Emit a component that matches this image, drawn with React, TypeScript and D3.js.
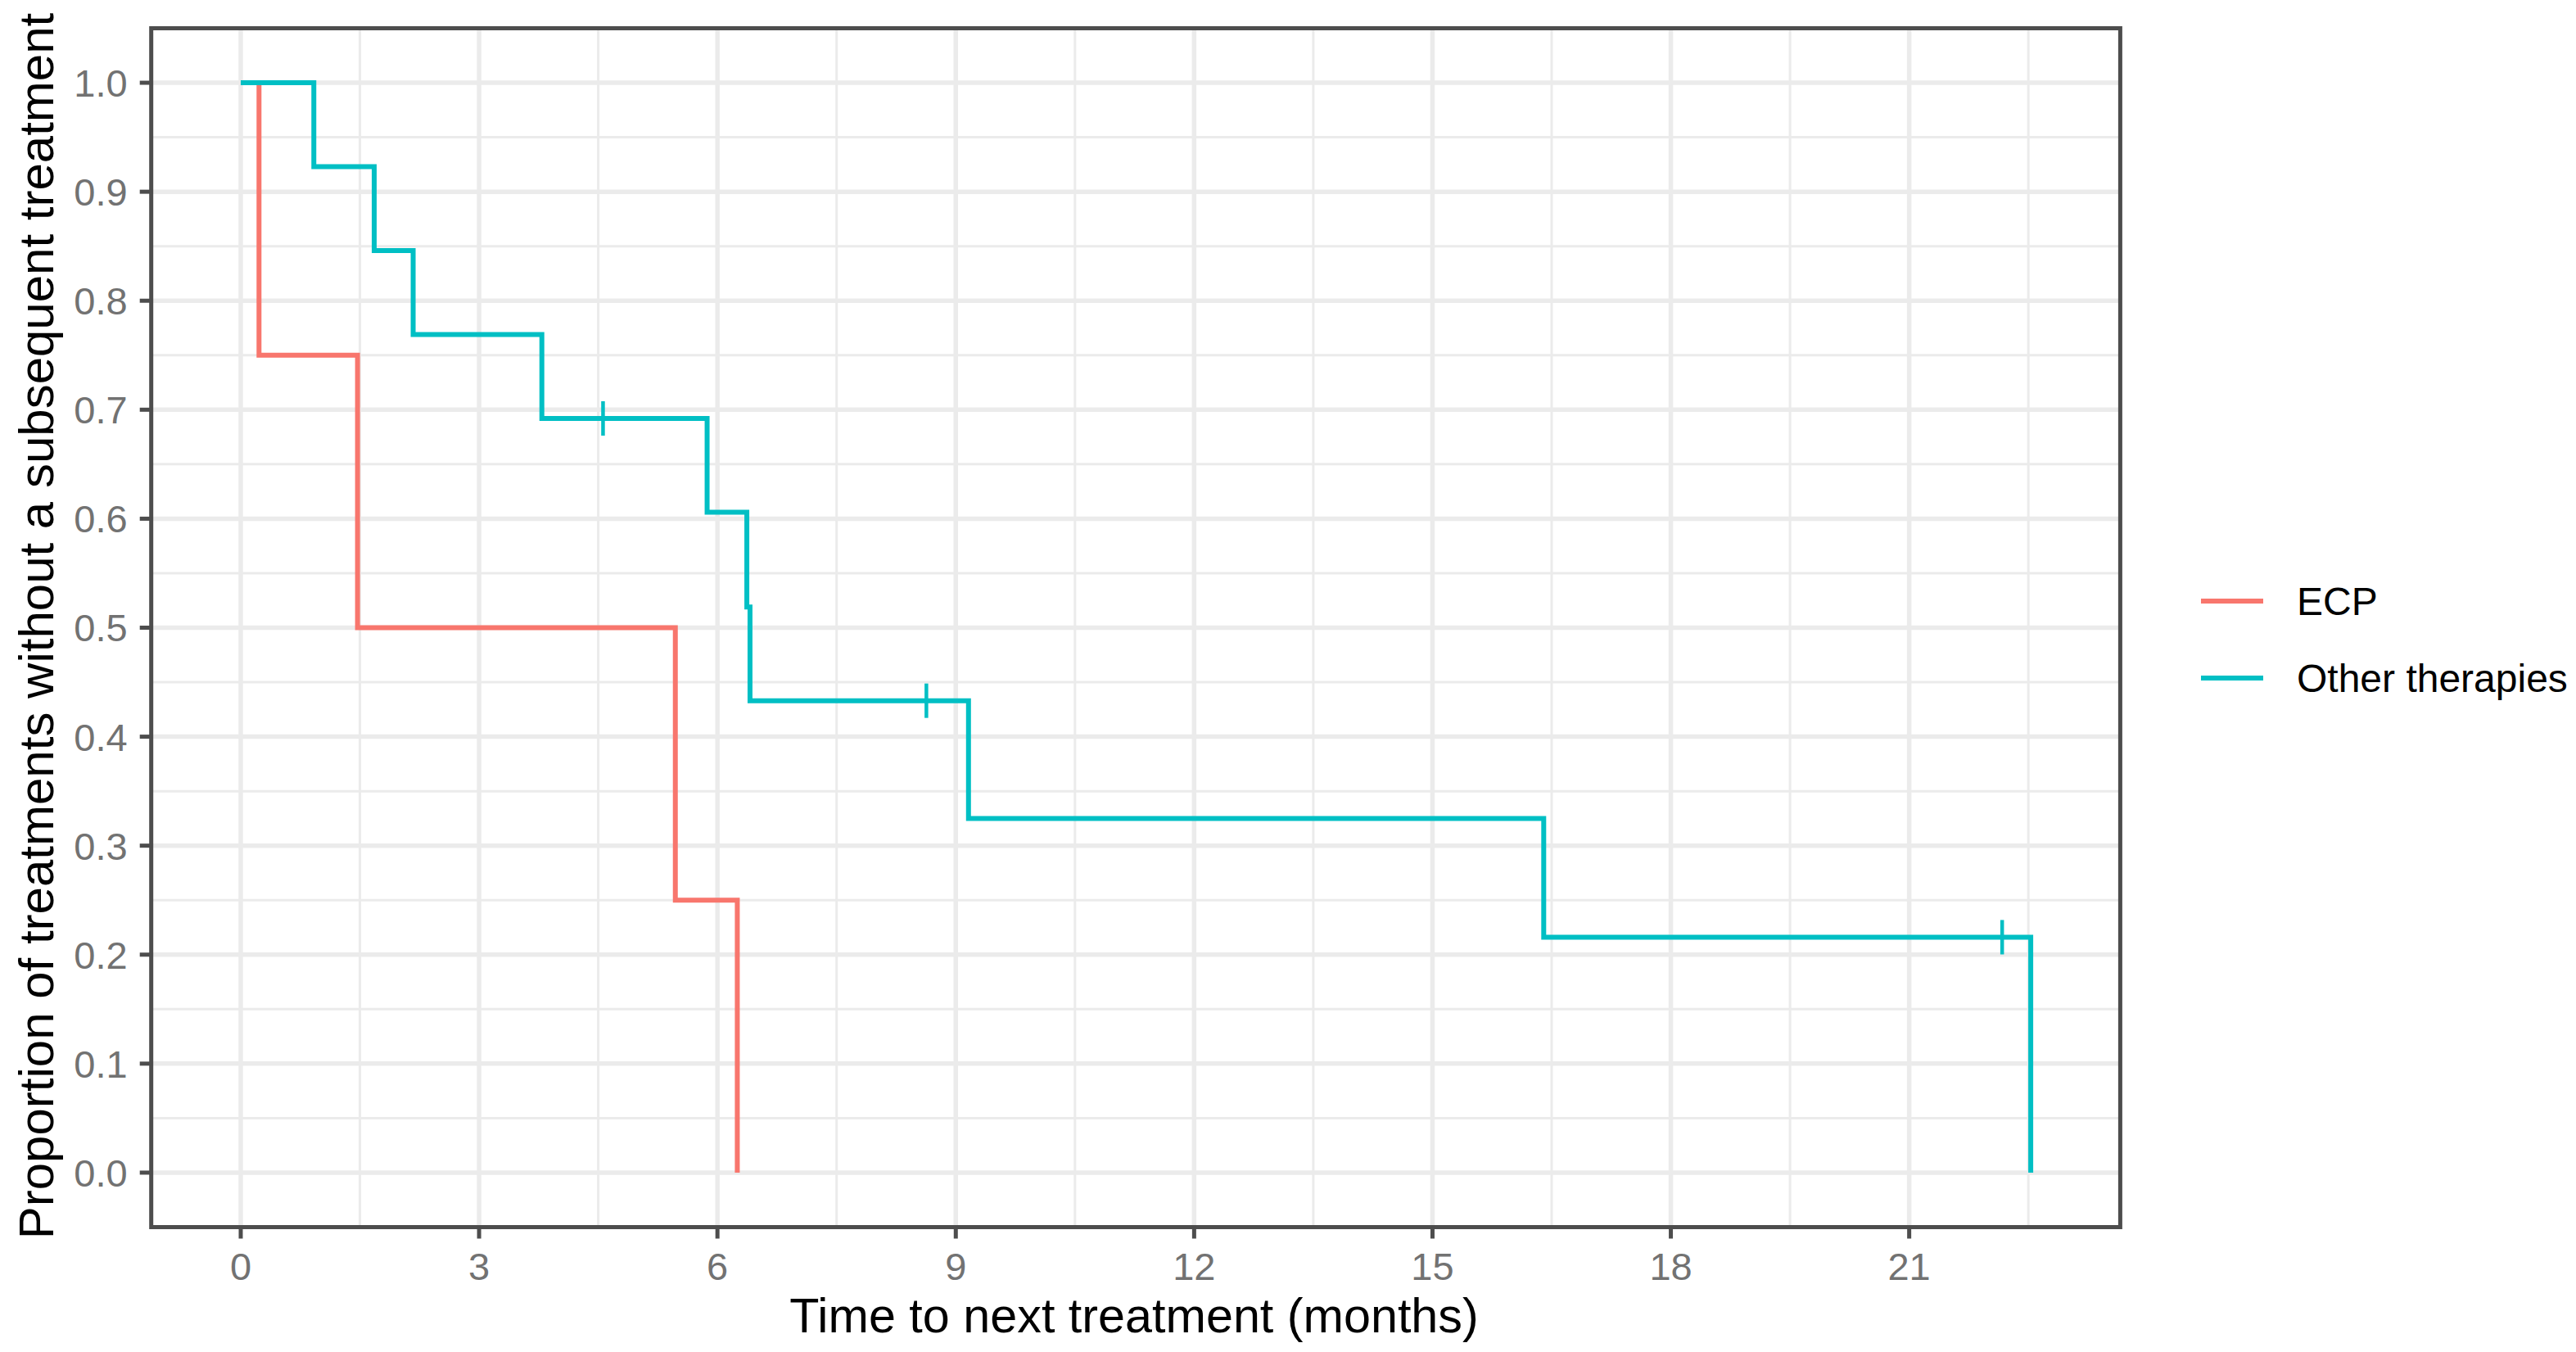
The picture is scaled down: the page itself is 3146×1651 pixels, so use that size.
import React from 'react';
import * as d3 from 'd3';

// Kaplan-Meier steps
const ecpTimes = [0, 0.23, 1.47, 5.47, 6.25];
const ecpSurv = [1, 0.75, 0.5, 0.25, 0];

const otherTimes = [0, 0.92, 1.68, 2.17, 3.79, 5.87, 6.37, 6.41, 9.16, 16.4, 22.53];
const otherSurv = [1, 0.923, 0.846, 0.769, 0.692, 0.606, 0.519, 0.433, 0.325, 0.216, 0];
const otherCensor = [4.56, 8.63, 22.17];

const groups = ['ECP', 'Other therapies'];
const groupColors = ['#F8766D', '#00BFC4'];

const xTicks = [0, 3, 6, 9, 12, 15, 18, 21];
const xMinor = [1.5, 4.5, 7.5, 10.5, 13.5, 16.5, 19.5, 22.5];
const yTicks = [0, 0.1, 0.2, 0.3, 0.4, 0.5, 0.6, 0.7, 0.8, 0.9, 1.0];
const yMinor = [0.05, 0.15, 0.25, 0.35, 0.45, 0.55, 0.65, 0.75, 0.85, 0.95];

const W = 3146;
const H = 1651;
const FONT = '"Liberation Sans", Arial, Helvetica, sans-serif';

const maxT = 22.53;

export default function App() {
  const left = 184.7;
  const right = 2589.4;
  const top = 34.5;
  const bottom = 1498.5;

  const x = d3.scaleLinear().domain([-0.05 * maxT, maxT * 1.05]).range([left, right]);
  const y = d3.scaleLinear().domain([-0.05, 1.05]).range([bottom, top]);

  const line = d3
    .line<[number, number]>()
    .x((d) => x(d[0]))
    .y((d) => y(d[1]))
    .curve(d3.curveStepAfter);

  const series = [
    { times: ecpTimes, surv: ecpSurv, censor: [] as number[] },
    { times: otherTimes, surv: otherSurv, censor: otherCensor },
  ];

  const survAt = (times: number[], surv: number[], t: number) => {
    const i = d3.bisectRight(times, t) - 1;
    return surv[Math.max(0, i)];
  };

  const gridCol = '#EBEBEB';
  const axisCol = '#4D4D4D';
  const tickTextCol = '#727272';

  return (
    <svg
      width={W}
      height={H}
      style={{ position: 'absolute', left: 0, top: 0, background: '#fff' }}
      fontFamily={FONT}
    >
      <rect x={0} y={0} width={W} height={H} fill="#fff" />

      {/* minor grid */}
      {xMinor.map((t) => (
        <line key={'xm' + t} x1={x(t)} x2={x(t)} y1={top} y2={bottom} stroke={gridCol} strokeWidth={3} />
      ))}
      {yMinor.map((v) => (
        <line key={'ym' + v} x1={left} x2={right} y1={y(v)} y2={y(v)} stroke={gridCol} strokeWidth={3} />
      ))}
      {/* major grid */}
      {xTicks.map((t) => (
        <line key={'xg' + t} x1={x(t)} x2={x(t)} y1={top} y2={bottom} stroke={gridCol} strokeWidth={5.5} />
      ))}
      {yTicks.map((v) => (
        <line key={'yg' + v} x1={left} x2={right} y1={y(v)} y2={y(v)} stroke={gridCol} strokeWidth={5.5} />
      ))}

      {/* curves */}
      {series.map((s, i) => (
        <g key={groups[i]}>
          <path
            d={line(s.times.map((t, j) => [t, s.surv[j]] as [number, number])) || ''}
            fill="none"
            stroke={groupColors[i]}
            strokeWidth={6}
            strokeLinejoin="miter"
          />
          {s.censor.map((t) => {
            const v = survAt(s.times, s.surv, t);
            return (
              <line
                key={'c' + t}
                x1={x(t)}
                x2={x(t)}
                y1={y(v) - 21}
                y2={y(v) + 21}
                stroke={groupColors[i]}
                strokeWidth={4.5}
              />
            );
          })}
        </g>
      ))}

      {/* panel border */}
      <rect
        x={left}
        y={top}
        width={right - left}
        height={bottom - top}
        fill="none"
        stroke={axisCol}
        strokeWidth={5}
      />

      {/* x axis ticks */}
      {xTicks.map((t) => (
        <g key={'xt' + t}>
          <line x1={x(t)} x2={x(t)} y1={bottom} y2={bottom + 14} stroke={axisCol} strokeWidth={5} />
          <text x={x(t)} y={bottom + 64} textAnchor="middle" fontSize={47} fill={tickTextCol}>
            {t}
          </text>
        </g>
      ))}

      {/* y axis ticks */}
      {yTicks.map((v) => (
        <g key={'yt' + v}>
          <line x1={left - 14} x2={left} y1={y(v)} y2={y(v)} stroke={axisCol} strokeWidth={5} />
          <text x={left - 29} y={y(v)} dy="0.36em" textAnchor="end" fontSize={47} fill={tickTextCol}>
            {v.toFixed(1)}
          </text>
        </g>
      ))}

      {/* axis titles */}
      <text x={(left + right) / 2 - 2} y={1627} textAnchor="middle" fontSize={59.3} fill="#000">
        Time to next treatment (months)
      </text>
      <text
        transform={`translate(65,${(top + bottom) / 2 - 2}) rotate(-90)`}
        textAnchor="middle"
        fontSize={60}
        fill="#000"
      >
        Proportion of treatments without a subsequent treatment
      </text>

      {/* legend */}
      {groups.map((g, i) => {
        const ly = 734 + i * 94;
        return (
          <g key={'lg' + g}>
            <line x1={2688} x2={2764} y1={ly} y2={ly} stroke={groupColors[i]} strokeWidth={6} />
            <text x={2805} y={ly} dy="0.36em" fontSize={48} fill="#000">
              {g}
            </text>
          </g>
        );
      })}
    </svg>
  );
}
